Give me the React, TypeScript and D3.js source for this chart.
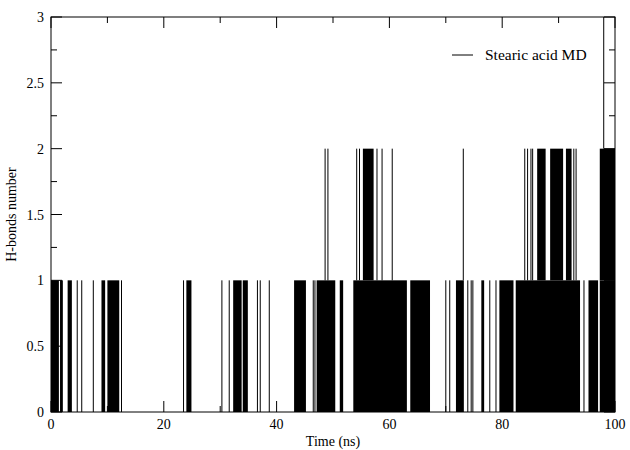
import React from "react";
import * as d3 from "d3";

// Time (ns) intervals where the H-bond count flickers rapidly between 0 and 1
const oneBlocks: [number, number][] = [
  [0, 1.4], [1.6, 2.1], [2.95, 3.7], [8.95, 9.6], [10.0, 12.1], [24.0, 24.9],
  [32.3, 33.8], [34.0, 34.9], [43.1, 45.2], [47.1, 50.4], [51.2, 51.8],
  [53.6, 63.1], [63.7, 67.2], [71.8, 73.2], [76.3, 76.8], [79.5, 82.0],
  [82.4, 93.8], [95.3, 97.0], [97.3, 100],
];
// isolated single-frame jumps 0 -> 1
const oneSpikes: number[] = [
  4.65, 5.45, 7.5, 12.5, 23.5, 30.3, 31.6, 36.6, 37.1, 38.7, 46.5, 46.8,
  70.0, 70.7, 73.9, 74.5, 74.8, 77.8, 78.9, 94.5,
];
// intervals where the count flickers between 1 and 2
const twoBlocks: [number, number][] = [
  [55.3, 57.2], [86.2, 87.7], [88.5, 90.8], [91.3, 92.3], [97.3, 100],
];
// isolated jumps 1 -> 2
const twoSpikes: number[] = [
  48.6, 49.1, 54.2, 54.7, 57.8, 58.7, 60.5, 73.1, 84.0, 84.5, 85.1, 85.4,
  92.7, 93.1,
];
// isolated jumps 2 -> 3
const threeSpikes: number[] = [98.0];

const xMajor = [0, 20, 40, 60, 80, 100];
const xMinor = [10, 30, 50, 70, 90];
const yMajor = [0, 0.5, 1, 1.5, 2, 2.5, 3];
const yMinor = [0.25, 0.75, 1.25, 1.75, 2.25, 2.75];

const seriesName = "Stearic acid MD";
const xTitle = "Time (ns)";
const yTitle = "H-bonds number";

export default function App() {
  const W = 630, H = 450;
  const L = 51, R = 615, T = 17, B = 412;
  const x = d3.scaleLinear().domain([0, 100]).range([L, R]);
  const y = d3.scaleLinear().domain([0, 3]).range([B, T]);
  const font = "'Liberation Serif', 'Times New Roman', serif";
  const major = 11, minor = 6;

  const ticks: JSX.Element[] = [];
  xMajor.forEach((v, i) => {
    ticks.push(<line key={"xb" + i} x1={x(v)} x2={x(v)} y1={B} y2={B - major} />);
    ticks.push(<line key={"xt" + i} x1={x(v)} x2={x(v)} y1={T} y2={T + major} />);
  });
  xMinor.forEach((v, i) => {
    ticks.push(<line key={"xbm" + i} x1={x(v)} x2={x(v)} y1={B} y2={B - minor} />);
    ticks.push(<line key={"xtm" + i} x1={x(v)} x2={x(v)} y1={T} y2={T + minor} />);
  });
  yMajor.forEach((v, i) => {
    ticks.push(<line key={"yl" + i} x1={L} x2={L + major} y1={y(v)} y2={y(v)} />);
    ticks.push(<line key={"yr" + i} x1={R} x2={R - major} y1={y(v)} y2={y(v)} />);
  });
  yMinor.forEach((v, i) => {
    ticks.push(<line key={"ylm" + i} x1={L} x2={L + minor} y1={y(v)} y2={y(v)} />);
    ticks.push(<line key={"yrm" + i} x1={R} x2={R - minor} y1={y(v)} y2={y(v)} />);
  });

  return (
    <svg width={W} height={H} style={{ position: "absolute", left: 0, top: 0, background: "#fff" }}
      fontFamily={font}>
      <rect x={0} y={0} width={W} height={H} fill="#fff" />
      {/* data */}
      <g fill="#000" stroke="none">
        {oneBlocks.map(([a, b], i) => (
          <rect key={"ob" + i} x={x(a)} y={y(1)} width={x(b) - x(a)} height={y(0) - y(1)} />
        ))}
        {twoBlocks.map(([a, b], i) => (
          <rect key={"tb" + i} x={x(a)} y={y(2)} width={x(b) - x(a)} height={y(1) - y(2)} />
        ))}
      </g>
      <g stroke="#000" strokeWidth={1}>
        {oneSpikes.map((t, i) => (
          <line key={"os" + i} x1={x(t)} x2={x(t)} y1={y(0)} y2={y(1)} />
        ))}
        {twoSpikes.map((t, i) => (
          <line key={"ts" + i} x1={x(t)} x2={x(t)} y1={y(1)} y2={y(2)} />
        ))}
        {threeSpikes.map((t, i) => (
          <line key={"hs" + i} x1={x(t)} x2={x(t)} y1={y(2)} y2={y(3)} />
        ))}
      </g>
      {/* frame + ticks */}
      <g stroke="#000" strokeWidth={1} fill="none">
        <rect x={L} y={T} width={R - L} height={B - T} />
        {ticks}
      </g>
      {/* tick labels */}
      <g fontSize={14} fill="#000">
        {xMajor.map((v, i) => (
          <text key={"xl" + i} x={x(v)} y={B + 17} textAnchor="middle">{v}</text>
        ))}
        {yMajor.map((v, i) => (
          <text key={"yl" + i} x={L - 7} y={y(v) + 5} textAnchor="end">{v}</text>
        ))}
      </g>
      <text x={(L + R) / 2} y={446} textAnchor="middle" fontSize={14}>{xTitle}</text>
      <text transform={`translate(16,${(T + B) / 2}) rotate(-90)`} textAnchor="middle" fontSize={14}>{yTitle}</text>
      {/* legend */}
      <line x1={452} x2={473} y1={55} y2={55} stroke="#000" strokeWidth={1} />
      <text x={485} y={60} fontSize={15.5}>{seriesName}</text>
    </svg>
  );
}
